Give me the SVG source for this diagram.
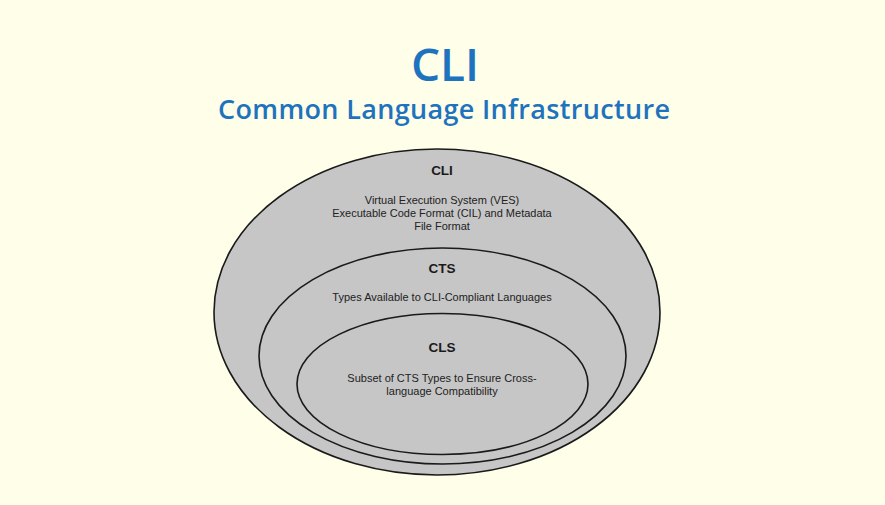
<svg xmlns="http://www.w3.org/2000/svg" width="885" height="505" viewBox="0 0 885 505">
<style>
.ell{fill:#c6c6c6;stroke:#1a1a1a;stroke-width:1.6}
.h{font-family:"Liberation Sans",Arial,sans-serif;font-weight:bold;font-size:13.5px;fill:#1a1a1a;text-anchor:middle}
.t{font-family:"Liberation Sans",Arial,sans-serif;font-size:11px;fill:#222;text-anchor:middle}
.title{font-family:"Open Sans","Noto Sans",sans-serif;font-weight:600;fill:#1e73be;text-anchor:middle}
</style>
<rect width="885" height="505" fill="#fefee9"/>
<g id="title">
<text class="title" x="445" y="81" font-size="46">CLI</text>
<text class="title" x="444" y="119" font-size="27" textLength="452" lengthAdjust="spacing">Common Language Infrastructure</text>
</g>
<g id="cli">
<ellipse class="ell" cx="437" cy="312" rx="223" ry="163"/>
<text class="h" x="442" y="175">CLI</text>
<text class="t" x="442" y="204">Virtual Execution System (VES)</text>
<text class="t" x="442" y="217">Executable Code Format (CIL) and Metadata</text>
<text class="t" x="442" y="230">File Format</text>
</g>
<g id="cts">
<ellipse class="ell" cx="442.5" cy="356" rx="183.5" ry="108"/>
<text class="h" x="442" y="273">CTS</text>
<text class="t" x="442" y="301">Types Available to CLI-Compliant Languages</text>
</g>
<g id="cls">
<ellipse class="ell" cx="442.5" cy="384" rx="145.5" ry="70.5"/>
<text class="h" x="442" y="352">CLS</text>
<text class="t" x="442" y="382">Subset of CTS Types to Ensure Cross-</text>
<text class="t" x="442" y="395">language Compatibility</text>
</g>
<g id="connectors"></g>
</svg>
